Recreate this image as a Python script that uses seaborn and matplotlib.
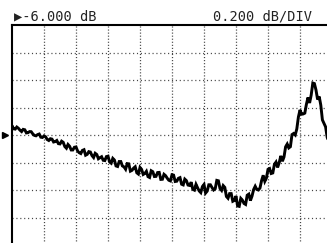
import matplotlib
matplotlib.use("Agg")
import matplotlib.pyplot as plt
import seaborn as sns

# ---- data ----
ref_level_db = -6.0
scale_db_per_div = 0.2
ref_position_div = 4          # reference line position (divisions above bottom)
n_xdiv = 10
n_ydiv = 8
header_left = "▶-6.000 dB"
header_right = "0.200 dB/DIV"

trace_x = [round(0.05 * i, 2) for i in range(199)]
trace_db = [
    -5.931, -5.955, -5.957, -5.942, -5.951, -5.965, -5.975, -5.959, -5.962, -5.985,
    -5.983, -5.975, -5.976, -5.992, -6.003, -6.006, -5.997, -5.993, -6.016, -6.018,
    -6.007, -6.013, -6.033, -6.040, -6.027, -6.030, -6.051, -6.048, -6.040, -6.063,
    -6.065, -6.045, -6.053, -6.084, -6.096, -6.069, -6.082, -6.109, -6.109, -6.089,
    -6.087, -6.116, -6.129, -6.135, -6.112, -6.107, -6.147, -6.141, -6.121, -6.124,
    -6.150, -6.164, -6.133, -6.142, -6.173, -6.165, -6.158, -6.184, -6.186, -6.157,
    -6.154, -6.196, -6.205, -6.170, -6.182, -6.225, -6.229, -6.193, -6.193, -6.225,
    -6.232, -6.249, -6.208, -6.210, -6.263, -6.257, -6.241, -6.231, -6.275, -6.284,
    -6.236, -6.250, -6.287, -6.280, -6.264, -6.303, -6.309, -6.260, -6.267, -6.302,
    -6.301, -6.273, -6.272, -6.323, -6.322, -6.286, -6.296, -6.314, -6.329, -6.334,
    -6.289, -6.292, -6.338, -6.336, -6.315, -6.310, -6.358, -6.363, -6.321, -6.332,
    -6.364, -6.367, -6.343, -6.395, -6.401, -6.359, -6.384, -6.407, -6.419, -6.375,
    -6.360, -6.422, -6.408, -6.362, -6.362, -6.382, -6.400, -6.391, -6.330, -6.333,
    -6.389, -6.403, -6.368, -6.381, -6.447, -6.460, -6.426, -6.426, -6.482, -6.476,
    -6.444, -6.516, -6.519, -6.461, -6.474, -6.498, -6.505, -6.438, -6.430, -6.477,
    -6.445, -6.397, -6.373, -6.396, -6.400, -6.385, -6.331, -6.293, -6.337, -6.313,
    -6.250, -6.244, -6.280, -6.276, -6.214, -6.197, -6.236, -6.201, -6.152, -6.191,
    -6.160, -6.086, -6.066, -6.094, -6.085, -5.997, -5.989, -6.000, -5.956, -5.869,
    -5.818, -5.849, -5.847, -5.841, -5.777, -5.727, -5.767, -5.709, -5.622, -5.626,
    -5.673, -5.742, -5.720, -5.783, -5.890, -5.916, -5.941, -6.018, -6.047,
]

# ---- figure ----
sns.set_style("white")
plt.rcParams["font.family"] = ["DejaVu Sans Mono", "DejaVu Sans"]
plt.rcParams["lines.scale_dashes"] = False

W, H = 327, 243
fig = plt.figure(figsize=(W / 100, H / 100), dpi=100)
fig.patch.set_facecolor("white")

left_px, top_px, width_px, height_px = 12, 25, 320, 220
ax = fig.add_axes([left_px / W, 1 - (top_px + height_px) / H, width_px / W, height_px / H])

y_bottom = ref_level_db - ref_position_div * scale_db_per_div
y_top = y_bottom + n_ydiv * scale_db_per_div
ax.set_xlim(0, n_xdiv)
ax.set_ylim(y_bottom, y_top)

for k in range(1, n_xdiv):
    ax.axvline(k, color="#444444", lw=0.9, ls=(0, (0.8, 1.4)), zorder=1)
for k in range(1, n_ydiv):
    ax.axhline(y_bottom + k * scale_db_per_div, color="#444444", lw=0.9,
               ls=(0, (0.8, 2.0)), zorder=1)

sns.lineplot(x=trace_x, y=trace_db, ax=ax, color="black", lw=2.1,
             estimator=None, sort=False, zorder=3,
             solid_joinstyle="miter", solid_capstyle="butt")

# reference marker on the left
ax.plot([-0.22], [ref_level_db], marker=">", color="black", markersize=5,
        clip_on=False, zorder=4)

ax.set_xticks([])
ax.set_yticks([])
for s in ["left", "top"]:
    ax.spines[s].set_color("black")
    ax.spines[s].set_linewidth(1.5)
for s in ["right", "bottom"]:
    ax.spines[s].set_visible(False)

fig.text(14 / W, 1 - 16 / H, header_left, fontsize=9.8, color="#222222",
         ha="left", va="center")
fig.text(213 / W, 1 - 16 / H, header_right, fontsize=9.8, color="#222222",
         ha="left", va="center")

fig.savefig("out.png", dpi=100, facecolor="white")
